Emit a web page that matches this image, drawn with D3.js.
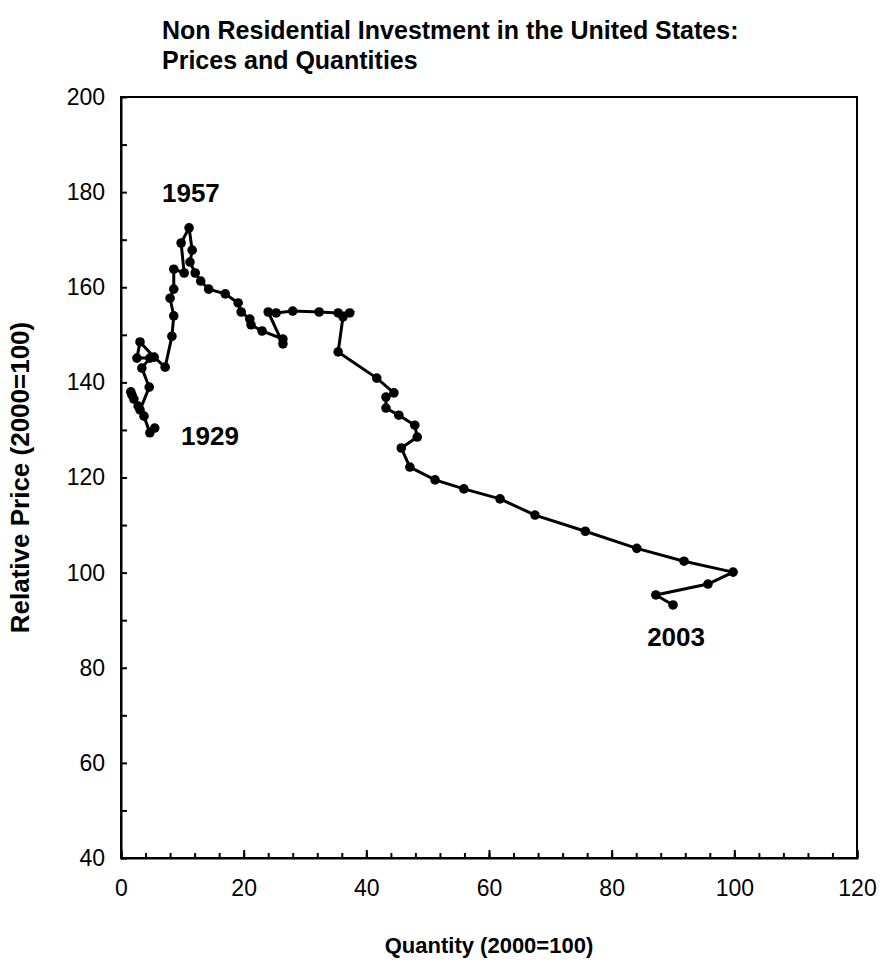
<!DOCTYPE html>
<html>
<head>
<meta charset="utf-8">
<script src="https://cdn.jsdelivr.net/npm/d3@7"></script>
<style>
  body { margin: 0; background: #fff; }
  svg { font-family: "Liberation Sans", Arial, sans-serif; }
</style>
</head>
<body>
<svg width="882" height="963"></svg>
<script>
// quantity index (2000=100), 1929 -> 2003
const quantity = [
    5.5, 4.7, 3.75, 2.8, 1.8, 1.6, 2.1, 3.1, 4.6, 3.4,
    4.7, 2.6, 3.1, 5.4, 7.2, 8.3, 8.6, 8.0, 8.6, 8.6,
    10.3, 9.8, 11.1, 11.6, 11.25, 12.1, 13.0, 14.3, 17.0, 19.1,
    19.6, 21.0, 21.2, 23.0, 26.4, 26.4, 24.0, 25.3, 28.0, 32.3,
    35.4, 37.3, 36.2, 35.4, 41.7, 44.5, 43.2, 43.2, 45.3, 47.9,
    48.3, 45.7, 47.1, 51.2, 55.9, 61.8, 67.5, 75.7, 84.1, 91.8,
    99.8, 95.7, 87.2, 90.0
];
// relative price (2000=100)
const price = [
    130.4, 129.4, 132.9, 135.0, 137.3, 138.0, 136.5, 134.2, 139.0, 143.0,
    145.1, 145.1, 148.5, 145.3, 143.2, 149.7, 154.0, 157.7, 159.6, 163.8,
    163.0, 169.3, 172.5, 167.8, 165.3, 163.0, 161.3, 159.6, 158.6, 156.7,
    154.8, 153.3, 152.1, 150.8, 149.1, 148.1, 154.8, 154.6, 155.0, 154.8,
    154.6, 154.6, 153.8, 146.4, 140.9, 137.8, 136.9, 134.6, 133.1, 131.0,
    128.5, 126.2, 122.2, 119.5, 117.6, 115.5, 112.1, 108.7, 105.1, 102.4,
    100.1, 97.6, 95.3, 93.2
];

const labels = [
    {text: "1957", q: 11.4, p: 179.4},
    {text: "1929", q: 14.5, p: 128.2},
    {text: "2003", q: 90.5, p: 86.0}
];

const xTicks = [0, 20, 40, 60, 80, 100, 120];
const yTicks = [40, 60, 80, 100, 120, 140, 160, 180, 200];

const svg = d3.select("svg");

const margin = {top: 97, left: 121};
const width = 736, height = 761;

const g = svg.append("g")
    .attr("transform", `translate(${margin.left},${margin.top})`);

const x = d3.scaleLinear().domain([0, 120]).range([0, width]);
const y = d3.scaleLinear().domain([40, 200]).range([height, 0]);

// title
svg.append("text")
    .attr("x", 162)
    .attr("y", 39)
    .attr("font-size", "25px")
    .attr("font-weight", "bold")
    .text("Non Residential Investment in the United States:");
svg.append("text")
    .attr("x", 162)
    .attr("y", 69)
    .attr("font-size", "25px")
    .attr("font-weight", "bold")
    .text("Prices and Quantities");

// frame
g.append("rect")
    .attr("width", width)
    .attr("height", height)
    .attr("fill", "none")
    .attr("stroke", "#000")
    .attr("stroke-width", 2);

// x axis: minor ticks every 4, labelled ticks every 20
g.append("g")
    .attr("transform", `translate(0,${height})`)
    .call(d3.axisBottom(x).tickValues(d3.range(0, 121, 4)).tickSize(-5).tickFormat(""))
    .call(a => a.select(".domain").remove())
    .selectAll("line").attr("stroke-width", 2);

const xAxis = g.append("g")
    .attr("transform", `translate(0,${height})`)
    .call(d3.axisBottom(x).tickValues(xTicks).tickSize(-8).tickPadding(22));
xAxis.select(".domain").attr("stroke-width", 2);
xAxis.selectAll("line").attr("stroke-width", 2);
xAxis.selectAll("text").attr("font-size", "23px").attr("font-family", null);

// y axis: ticks every 10, labels every 20
g.append("g")
    .call(d3.axisLeft(y).tickValues(d3.range(40, 201, 10)).tickSize(-6).tickFormat(""))
    .call(a => a.select(".domain").remove())
    .selectAll("line").attr("stroke-width", 2);

const yAxis = g.append("g")
    .call(d3.axisLeft(y).tickValues(yTicks).tickSize(0).tickPadding(16));
yAxis.select(".domain").attr("stroke-width", 2);
yAxis.selectAll("text").attr("font-size", "23px").attr("font-family", null);

// axis titles
svg.append("text")
    .attr("x", margin.left + width / 2)
    .attr("y", 953)
    .attr("text-anchor", "middle")
    .attr("font-size", "22px")
    .attr("font-weight", "bold")
    .text("Quantity (2000=100)");

svg.append("text")
    .attr("transform", `translate(29,${margin.top + height / 2}) rotate(-90)`)
    .attr("text-anchor", "middle")
    .attr("font-size", "26px")
    .attr("font-weight", "bold")
    .text("Relative Price (2000=100)");

// data
const points = quantity.map((q, i) => ({q, p: price[i]}));

g.append("path")
    .datum(points)
    .attr("fill", "none")
    .attr("stroke", "#000")
    .attr("stroke-width", 3)
    .attr("d", d3.line().x(d => x(d.q)).y(d => y(d.p)));

g.selectAll("circle")
    .data(points)
    .join("circle")
    .attr("cx", d => x(d.q))
    .attr("cy", d => y(d.p))
    .attr("r", 4.8)
    .attr("fill", "#000");

g.selectAll("text.year")
    .data(labels)
    .join("text")
    .attr("class", "year")
    .attr("x", d => x(d.q))
    .attr("y", d => y(d.p))
    .attr("text-anchor", "middle")
    .attr("dominant-baseline", "middle")
    .attr("font-size", "26px")
    .attr("font-weight", "bold")
    .text(d => d.text);
</script>
</body>
</html>
